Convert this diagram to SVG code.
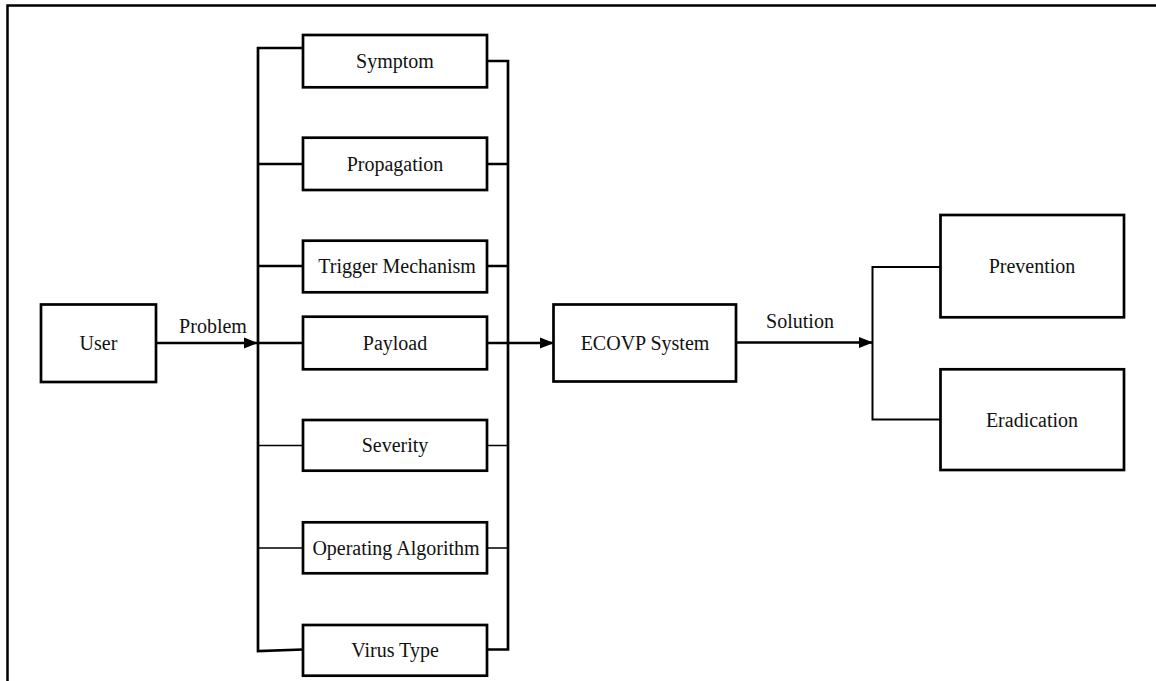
<svg xmlns="http://www.w3.org/2000/svg" width="1156" height="681" viewBox="0 0 1156 681">
<style>
.box{fill:#fff;stroke:#000;stroke-width:2.7}
.lbl{font-family:"Liberation Serif","Times New Roman",serif;font-size:20px;fill:#111;text-anchor:middle}
.ln{fill:none;stroke:#000;stroke-width:2.7}
.thin{fill:none;stroke:#000;stroke-width:1.5}
</style>
<defs>
<marker id="arr" markerWidth="14" markerHeight="12" refX="13" refY="6" orient="auto" markerUnits="userSpaceOnUse">
<path d="M0,0.5 L14,6 L0,11.5 Z" fill="#000"/>
</marker>
</defs>
<rect width="1156" height="681" fill="#fff"/>
<path d="M7.5,681 V5.5 H1156" fill="none" stroke="#000" stroke-width="2.5"/>
<g id="connectors">
<path class="ln" d="M303,48 H258 V651 L303,649.5"/>
<path class="ln" d="M258,164 H303 M258,266 H303 M258,343 H303"/>
<path class="thin" d="M258,445.5 H303 M258,548 H303"/>
<path class="ln" d="M487,61 H508 V649.5 H487"/>
<path class="ln" d="M487,164 H508 M487,266 H508"/>
<path class="thin" d="M487,445.5 H508 M487,548 H508"/>
<path class="ln" d="M156,343 H257" marker-end="url(#arr)"/>
<path class="ln" d="M487,343 H553" marker-end="url(#arr)"/>
<path class="ln" d="M736,342.5 H872" marker-end="url(#arr)"/>
<path class="ln" d="M940,267 H872.5 V419.5 H940" style="stroke-width:2"/>
<text class="lbl" x="213" y="333">Problem</text>
<text class="lbl" x="800" y="328">Solution</text>
</g>
<g id="user"><rect class="box" x="41" y="304.5" width="115" height="77.5"/><text class="lbl" x="98.5" y="350">User</text></g>
<g id="symptom"><rect class="box" x="303" y="35" width="184" height="52.3"/><text class="lbl" x="395" y="68">Symptom</text></g>
<g id="propagation"><rect class="box" x="303" y="137.7" width="184" height="52.3"/><text class="lbl" x="395" y="171">Propagation</text></g>
<g id="trigger"><rect class="box" x="303" y="240.7" width="184" height="51.6"/><text class="lbl" x="397" y="273">Trigger Mechanism</text></g>
<g id="payload"><rect class="box" x="303" y="316.7" width="184" height="52.6"/><text class="lbl" x="395" y="350">Payload</text></g>
<g id="severity"><rect class="box" x="303" y="420" width="184" height="50.7"/><text class="lbl" x="395" y="452">Severity</text></g>
<g id="operating"><rect class="box" x="303" y="522.3" width="184" height="51"/><text class="lbl" x="396" y="555">Operating Algorithm</text></g>
<g id="virustype"><rect class="box" x="303" y="625" width="184" height="50.7"/><text class="lbl" x="395" y="657">Virus Type</text></g>
<g id="ecovp"><rect class="box" x="553.5" y="304.5" width="182.5" height="77"/><text class="lbl" x="645" y="350">ECOVP System</text></g>
<g id="prevention"><rect class="box" x="940.5" y="215" width="183.5" height="102.3"/><text class="lbl" x="1032" y="273">Prevention</text></g>
<g id="eradication"><rect class="box" x="940.5" y="369.3" width="183.5" height="100.7"/><text class="lbl" x="1032" y="427">Eradication</text></g>
</svg>
